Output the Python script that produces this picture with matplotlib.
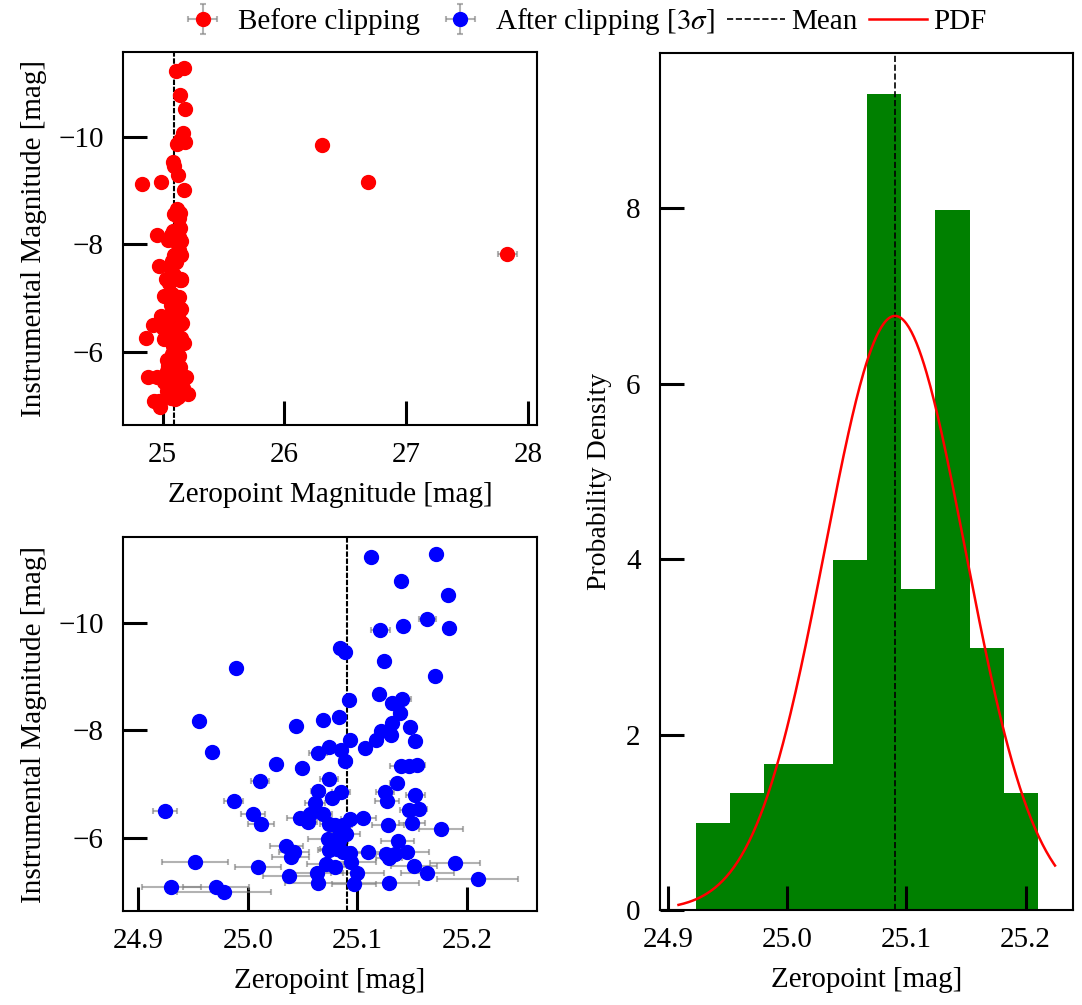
import numpy as np
import matplotlib
matplotlib.use("Agg")
import matplotlib.pyplot as plt

plt.rcParams['font.family'] = ['Liberation Serif', 'DejaVu Serif']
plt.rcParams['mathtext.fontset'] = 'stix'
plt.rcParams['font.size'] = 21
plt.rcParams['axes.linewidth'] = 1.5

# stars kept after 3-sigma clipping: zeropoint, instrumental mag, zeropoint error
zp_kept = [25.112, 25.172, 25.140, 25.183, 25.164, 25.142, 25.184, 25.121, 25.084, 25.089,
           25.124, 24.989, 25.171, 25.120, 25.092, 25.141, 25.132, 25.139, 24.955, 25.044,
           25.069, 25.083, 25.132, 25.148, 25.122, 25.131, 25.117, 25.153, 25.093, 25.074,
           25.085, 25.107, 25.064, 24.967, 25.089, 25.026, 25.049, 25.140, 25.147, 25.154,
           25.074, 25.011, 25.136, 25.064, 25.085, 25.077, 25.125, 25.153, 25.127, 24.987,
           25.061, 24.924, 25.147, 25.156, 25.005, 25.069, 25.057, 25.048, 25.055, 25.093,
           25.105, 25.012, 25.074, 25.080, 25.087, 25.128, 25.150, 25.176, 25.084, 25.090,
           25.073, 25.137, 25.083, 25.035, 25.042, 25.039, 25.074, 25.081, 25.087, 25.093,
           25.110, 25.126, 25.134, 25.145, 25.129, 24.952, 25.009, 25.071, 25.080, 25.094,
           25.152, 25.189, 25.038, 25.063, 25.100, 25.164, 25.210, 24.930, 24.971, 24.978,
           25.064, 25.097, 25.129]
inst_kept = [-11.216, -11.278, -10.782, -10.509, -10.063, -9.945, -9.895, -9.864, -9.536, -9.455,
             -9.288, -9.151, -9.008, -8.667, -8.562, -8.580, -8.500, -8.314, -8.171, -8.078,
             -8.184, -8.246, -8.134, -8.066, -7.985, -7.905, -7.818, -7.799, -7.811, -7.688,
             -7.632, -7.669, -7.570, -7.595, -7.433, -7.365, -7.291, -7.334, -7.334, -7.353,
             -7.086, -7.049, -7.024, -6.869, -6.844, -6.745, -6.850, -6.795, -6.689, -6.677,
             -6.652, -6.503, -6.515, -6.534, -6.447, -6.435, -6.435, -6.360, -6.292, -6.354,
             -6.360, -6.255, -6.249, -6.236, -6.236, -6.230, -6.267, -6.168, -6.112, -6.069,
             -5.976, -5.932, -5.945, -5.852, -5.740, -5.647, -5.771, -5.784, -5.734, -5.722,
             -5.728, -5.697, -5.691, -5.728, -5.629, -5.542, -5.455, -5.505, -5.461, -5.548,
             -5.480, -5.536, -5.288, -5.344, -5.350, -5.337, -5.226, -5.089, -5.089, -4.990,
             -5.151, -5.132, -5.163]
zp_err_kept = [0.004, 0.004, 0.003, 0.003, 0.008, 0.004, 0.003, 0.009, 0.003, 0.003,
               0.003, 0.003, 0.003, 0.003, 0.003, 0.008, 0.004, 0.006, 0.003, 0.003,
               0.003, 0.003, 0.004, 0.004, 0.004, 0.004, 0.004, 0.004, 0.004, 0.004,
               0.006, 0.004, 0.008, 0.004, 0.006, 0.005, 0.005, 0.010, 0.006, 0.008,
               0.008, 0.008, 0.006, 0.006, 0.008, 0.006, 0.008, 0.009, 0.011, 0.009,
               0.009, 0.011, 0.008, 0.008, 0.011, 0.008, 0.006, 0.012, 0.008, 0.008,
               0.012, 0.012, 0.008, 0.008, 0.008, 0.015, 0.012, 0.020, 0.008, 0.012,
               0.018, 0.015, 0.008, 0.015, 0.014, 0.017, 0.010, 0.015, 0.010, 0.012,
               0.012, 0.015, 0.012, 0.020, 0.012, 0.030, 0.021, 0.017, 0.012, 0.023,
               0.021, 0.023, 0.024, 0.024, 0.024, 0.024, 0.037, 0.027, 0.030, 0.043,
               0.030, 0.020, 0.027]

# stars rejected by the clipping (only in the "before" panel)
zp_rejected = [24.83, 24.86, 24.88, 26.305, 26.69, 27.83]
inst_rejected = [-9.12, -6.27, -5.55, -9.84, -9.16, -7.82]
zp_err_rejected = [0.02, 0.02, 0.02, 0.01, 0.01, 0.08]

inst_err = 0.01  # instrumental mag error, too small to see

# histogram of kept zeropoints (counts per bin)
hist_range = (24.9237, 25.2103)
hist_counts = [3, 4, 5, 5, 12, 28, 11, 24, 9, 4]

# fitted normal distribution
zp_mean = 25.0905
zp_std = 0.0589
pdf_range = (24.909, 25.2246)

err_kw = dict(fmt='o', ms=10, ecolor=(0.5, 0.5, 0.5, 0.6), elinewidth=1.5,
              capsize=2, capthick=1.5)
tick_kw = dict(direction='in', length=17, width=2.2, labelsize=21)
mean_ls = (0, (2.6, 0.8))

fig = plt.figure(figsize=(10.82, 10.05), dpi=100)
ax1 = fig.add_axes([0.1137, 0.5771, 0.3826, 0.3711])
ax2 = fig.add_axes([0.1137, 0.0935, 0.3826, 0.3721])
ax3 = fig.add_axes([0.6100, 0.0945, 0.3817, 0.8527])

# -------------------------------
# before clipping
# -------------------------------
zp_all = zp_kept + zp_rejected
inst_all = inst_kept + inst_rejected
err_all = zp_err_kept + zp_err_rejected
h_before = ax1.errorbar(zp_all, inst_all, xerr=err_all, yerr=inst_err,
                        color='red', label='Before clipping', **err_kw)
ax1.axvline(zp_mean, color='black', ls=mean_ls, lw=1.5)
ax1.set_xlim(24.674, 28.074)
ax1.set_ylim(-4.65, -11.57)
ax1.set_xticks([25, 26, 27, 28])
ax1.set_yticks([-10, -8, -6])
ax1.set_xlabel('Zeropoint Magnitude [mag]', labelpad=10)
ax1.set_ylabel('Instrumental Magnitude [mag]', labelpad=8)

# -------------------------------
# after clipping
# -------------------------------
h_after = ax2.errorbar(zp_kept, inst_kept, xerr=zp_err_kept, yerr=inst_err,
                       color='blue', label=r'After clipping [$3\sigma$]', **err_kw)
ax2.axvline(zp_mean, color='black', ls=mean_ls, lw=1.5)
ax2.set_xlim(24.886, 25.264)
ax2.set_ylim(-4.636, -11.594)
ax2.set_xticks([24.9, 25.0, 25.1, 25.2])
ax2.set_yticks([-10, -8, -6])
ax2.set_xlabel('Zeropoint [mag]', labelpad=10)
ax2.set_ylabel('Instrumental Magnitude [mag]', labelpad=8)

# -------------------------------
# histogram + pdf
# -------------------------------
edges = np.linspace(hist_range[0], hist_range[1], len(hist_counts) + 1)
centers = 0.5 * (edges[:-1] + edges[1:])
ax3.hist(centers, bins=edges, weights=hist_counts, density=True, color='green')
h_mean = ax3.axvline(zp_mean, color='black', ls='--', lw=1.2, label='Mean')
xs = np.linspace(pdf_range[0], pdf_range[1], 300)
pdf = np.exp(-0.5 * ((xs - zp_mean) / zp_std) ** 2) / (zp_std * np.sqrt(2 * np.pi))
h_pdf, = ax3.plot(xs, pdf, color='red', lw=1.8, label='PDF')
ax3.set_xlim(24.8935, 25.2397)
ax3.set_ylim(0, 9.77)
ax3.set_xticks([24.9, 25.0, 25.1, 25.2])
ax3.set_yticks([0, 2, 4, 6, 8])
ax3.set_xlabel('Zeropoint [mag]', labelpad=10)
ax3.set_ylabel('Probability Density', fontsize=20, labelpad=10)

for ax in (ax1, ax2, ax3):
    ax.tick_params(axis='x', pad=12, **tick_kw)
    ax.tick_params(axis='y', pad=14, **tick_kw)

fig.legend(handles=[h_before, h_after, h_mean, h_pdf], loc='upper center',
           bbox_to_anchor=(0.536, 1.02), ncol=4, frameon=False, fontsize=21,
           handletextpad=0.2, columnspacing=0.4, handlelength=2.0)

fig.savefig('out.png', dpi=100)
